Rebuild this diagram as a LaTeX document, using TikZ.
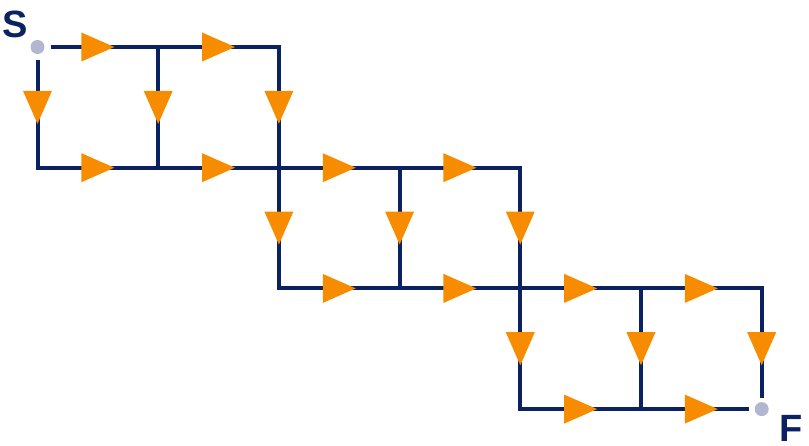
\documentclass[tikz,border=0pt]{standalone}
\usepackage{fontspec}
\setmainfont{Liberation Sans}
\usetikzlibrary{calc}
\definecolor{navy}{RGB}{10,34,98}
\definecolor{arrorange}{RGB}{247,140,0}
\definecolor{dotgray}{RGB}{178,182,208}
\tikzset{
  wire/.style={draw=navy, line width=4pt, line cap=rect},
  enddot/.style={circle, fill=dotgray, minimum size=14pt, inner sep=0pt, outer sep=6pt},
  lbl/.style={font=\bfseries\fontsize{38}{38}\selectfont, text=navy, inner sep=0pt, anchor=base west},
  rtri/.pic={\fill[arrorange] (-16.5,-14.5) -- (16.5,0) -- (-16.5,14.5) -- cycle;},
  dtri/.pic={\fill[arrorange] (-14.5,-16.5) -- (14.5,-16.5) -- (0,16.5) -- cycle;}
}
\begin{document}
\begin{tikzpicture}[x=1pt,y=-1pt]
\useasboundingbox (0,0) rectangle (809,446);
% grid coordinates
\foreach \i in {0,...,6}{
  \foreach \j in {0,...,3}{
    \coordinate (g\i\j) at ({37.5+120.7*\i},{47+120.7*\j});
  }
}
\node[enddot] (S) at (g00) {};
\node[enddot] (F) at (g63) {};
% wires
\path[wire, line cap=butt] (S) -- (g00 -| g20);
\path[wire] (g10) -- (g20) -- (g22);
\path[wire, line cap=butt] (S) -- (g00 |- g01);
\path[wire] (g01) -- (g41) -- (g43);
\path[wire] (g10) -- (g11);
\path[wire] (g22) -- (g42);
\path[wire] (g31) -- (g32);
\path[wire] (g42) -- (g62) -- (g63 |- F.north);
\path[wire] (g52) -- (g53);
\path[wire] (g43) -- (g53);
\path[wire, line cap=butt] (g53) -- (F);
\path[wire, line cap=butt] (g62) -- (F);
% labels
\node[lbl] (Slbl) at (2.3,37.5) {S};
\node[lbl] (Flbl) at (779,442) {F};
% right-pointing triangles
\foreach \a/\b in {g00/g10, g10/g20, g01/g11, g11/g21, g21/g31, g31/g41,
                   g22/g32, g32/g42, g42/g52, g52/g62, g43/g53, g53/g63}{
  \path ($(\a)!0.5!(\b)$) pic{rtri};
}
% down-pointing triangles
\foreach \a/\b in {g00/g01, g10/g11, g20/g21, g21/g22, g31/g32, g41/g42,
                   g42/g43, g52/g53, g62/g63}{
  \path ($(\a)!0.5!(\b)$) pic{dtri};
}
\end{tikzpicture}
\end{document}
